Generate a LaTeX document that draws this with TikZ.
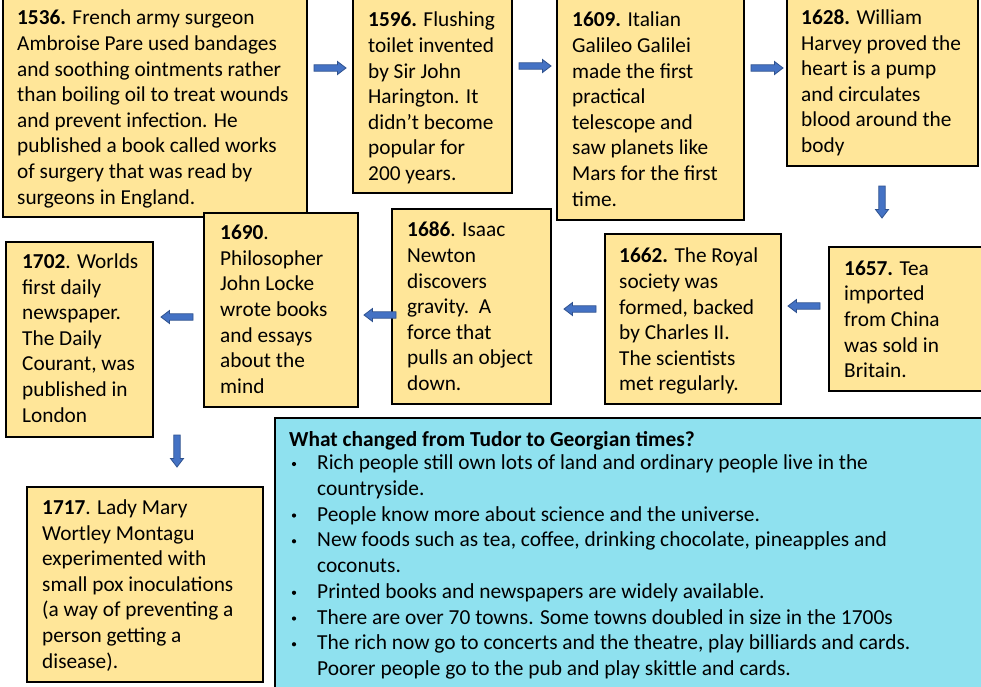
\documentclass[tikz,border=0pt]{standalone}
\usepackage{fontspec}
\setmainfont{Carlito}
\definecolor{boxfill}{HTML}{FFE699}
\definecolor{bluefill}{HTML}{8FE1EF}
\definecolor{arrfill}{HTML}{4472C4}
\definecolor{arrline}{HTML}{2F528F}
\tikzset{
  ybox/.style={draw=black, line width=1.6pt, fill=boxfill},
  bbox/.style={draw=black, line width=1.8pt, fill=bluefill},
  ytxt/.style={anchor=north west, inner sep=0pt, align=left, font=\fontsize{21.3}{25.6}\selectfont, yshift=15pt, execute at begin node=\strut},
  btxt/.style={anchor=north west, inner sep=0pt, align=left, font=\fontsize{21.4}{25.75}\selectfont, yshift=16pt, execute at begin node=\strut},
  bulletdot/.style={circle, fill=black, inner sep=0pt, minimum size=4.2pt},
  blockarrow/.pic={\draw[fill=arrfill, draw=arrline, line width=0.8pt, line join=miter]
     (0,-3.2)--(23.5,-3.2)--(23.5,-6.5)--(32,0)--(23.5,6.5)--(23.5,3.2)--(0,3.2)--cycle;}
}
\begin{document}
\begin{tikzpicture}[x=1pt,y=-1pt]
\useasboundingbox (0,0) rectangle (981,686);
\clip (0,0) rectangle (981,686);
\fill[white] (0,0) rectangle (981,686);
% boxes
\draw[ybox] (3,-5) rectangle (307,217);
\draw[ybox] (353,-5) rectangle (512,193);
\draw[ybox] (557,-5) rectangle (744,220);
\draw[ybox] (787,-5) rectangle (978,166);
\draw[ybox] (829,247) rectangle (990,391);
\draw[ybox] (605,234) rectangle (781,404);
\draw[ybox] (392,209) rectangle (551,404);
\draw[ybox] (204,213) rectangle (358,407);
\draw[ybox] (6,242) rectangle (153,437);
\draw[ybox] (27,487) rectangle (263,682);
\draw[bbox] (275,418) rectangle (995,700);
% texts
\node[ytxt] (t1536) at (17,25) {\textbf{1536.} French army surgeon\\Ambroise Pare used bandages\\and soothing ointments rather\\than boiling oil to treat wounds\\and prevent infection. He\\published a book called works\\of surgery that was read by\\surgeons in England.};
\node[ytxt] (t1596) at (368,27) {\textbf{1596.} Flushing\\toilet invented\\by Sir John\\Harington. It\\didn’t become\\popular for\\200 years.};
\node[ytxt] (t1609) at (572,27) {\textbf{1609.} Italian\\Galileo Galilei\\made the first\\practical\\telescope and\\saw planets like\\Mars for the first\\time.};
\node[ytxt] (t1628) at (801,24.5) {\textbf{1628.} William\\Harvey proved the\\heart is a pump\\and circulates\\blood around the\\body};
\node[ytxt] (t1657) at (844,275.5) {\textbf{1657.} Tea\\imported\\from China\\was sold in\\Britain.};
\node[ytxt] (t1662) at (619,263) {\textbf{1662.} The Royal\\society was\\formed, backed\\by Charles II.\\The scientists\\met regularly.};
\node[ytxt] (t1686) at (407,237) {\textbf{1686}. Isaac\\Newton\\discovers\\gravity.\ \ A\\force that\\pulls an object\\down.};
\node[ytxt] (t1690) at (220,240) {\textbf{1690}.\\Philosopher\\John Locke\\wrote books\\and essays\\about the\\mind};
\node[ytxt] (t1702) at (22,268.5) {\textbf{1702}. Worlds\\first daily\\newspaper.\\The Daily\\Courant, was\\published in\\London};
\node[ytxt] (t1717) at (42,514.5) {\textbf{1717}. Lady Mary\\Wortley Montagu\\experimented with\\small pox inoculations\\(a way of preventing a\\person getting a\\disease).};
\node[btxt] (title) at (289,444.5) {\textbf{What changed from Tudor to Georgian times?}};
\node[btxt] (list) at (317,470.5) {Rich people still own lots of land and ordinary people live in the\\countryside.\\People know more about science and the universe.\\New foods such as tea, coffee, drinking chocolate, pineapples and\\coconuts.\\Printed books and newspapers are widely available.\\There are over 70 towns. Some towns doubled in size in the 1700s\\The rich now go to concerts and the theatre, play billiards and cards.\\Poorer people go to the pub and play skittle and cards.};
\foreach \i in {0,2,3,5,6,7}
  \node[bulletdot] at (294,464+\i*25.75) {};
% arrows
\pic at (314,68) {blockarrow};
\pic at (519,66) {blockarrow};
\pic at (751,68) {blockarrow};
\pic[rotate=-90] at (882,186) {blockarrow};
\pic[rotate=180] at (820,306) {blockarrow};
\pic[rotate=180] at (596,309) {blockarrow};
\pic[rotate=180] at (396,315) {blockarrow};
\pic[rotate=180] at (193,317) {blockarrow};
\pic[rotate=-90] at (177,435) {blockarrow};
\end{tikzpicture}
\end{document}
